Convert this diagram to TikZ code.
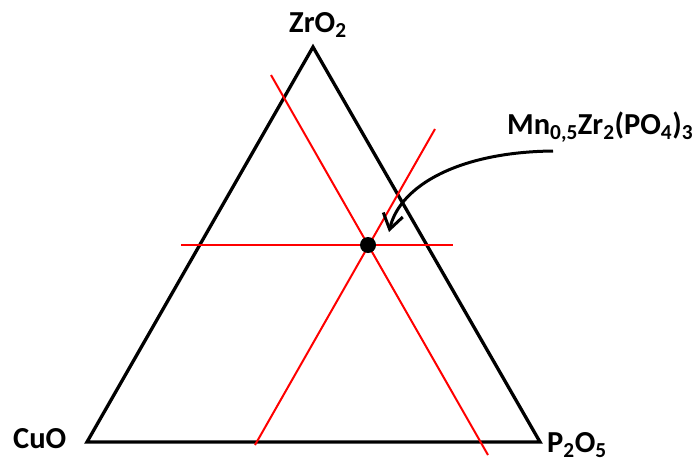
\documentclass[tikz,border=0pt]{standalone}
\usepackage{fontspec}
\setmainfont{Carlito}
\usepackage{tikz}
\usetikzlibrary{arrows.meta, positioning}

\begin{document}
\begin{tikzpicture}[x=1pt, y=-1pt]
    \tikzstyle{side} = [draw, black, line width=3.3pt, line join=miter]
    \tikzstyle{guide} = [draw, red, line width=2pt]
    \tikzstyle{dot} = [circle, fill=black, inner sep=0pt, minimum size=16pt]
    \tikzstyle{oxide} = [inner sep=0pt, anchor=base west, font=\fontsize{30.5}{36}\selectfont\bfseries]
    \tikzstyle{pointer} = [draw, line width=3pt, -{Straight Barb[length=15pt, width=20pt, line width=3pt]}]

    \useasboundingbox (0,0) rectangle (698,463);

    % corners of the diagram
    \coordinate (cuo) at (87,442);
    \coordinate (p2o5) at (540,442);
    \coordinate (zro2) at (313,47);

    \node [oxide] (cuolab) at (13,448) {CuO};
    \node [oxide] (p2o5lab) at (547,452) {P\textsubscript{2}O\textsubscript{5}};
    \node [oxide] (zro2lab) at (289,32) {ZrO\textsubscript{2}};
    \node [oxide] (mnlab) at (507,134) {Mn\textsubscript{0,5}Zr\textsubscript{2}(PO\textsubscript{4})\textsubscript{3}};

    \path [side] (cuo) -- (p2o5) -- (zro2) -- cycle;

    % guide lines through the composition
    \coordinate (a1) at (271,75);
    \coordinate (a2) at (488,455);
    \coordinate (b1) at (435,129);
    \coordinate (b2) at (255,445);
    \coordinate (c1) at (181,245);
    \coordinate (c2) at (453,245);
    \path [guide] (a1) -- (a2);
    \path [guide] (b1) -- (b2);
    \path [guide] (c1) -- (c2);

    \node [dot] (mn) at (368,245) {};

    \coordinate (tail) at (553,151);
    \coordinate (tip) at (389,232);
    \path [pointer] (tail) .. controls (460,152) and (400,185) .. (tip);
\end{tikzpicture}
\end{document}
